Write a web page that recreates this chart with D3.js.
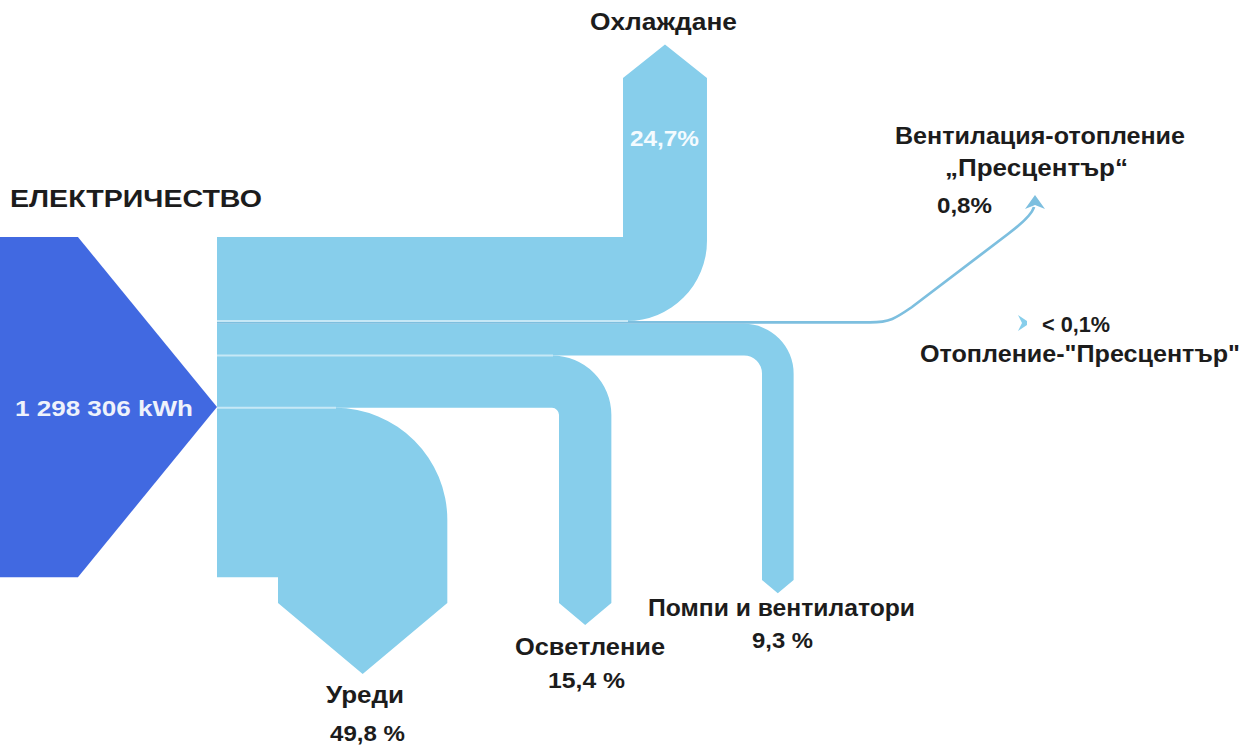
<!DOCTYPE html>
<html>
<head>
<meta charset="utf-8">
<script src="https://cdn.jsdelivr.net/npm/d3@7"></script>
<style>
  html, body { margin: 0; padding: 0; background: #ffffff; }
  svg text { font-family: "Liberation Sans", Arial, "DejaVu Sans", sans-serif; font-weight: bold; }
</style>
</head>
<body>
<svg id="chart" width="1244" height="746"></svg>
<script>
// Electricity balance: one source split into end-use flows (shares in %)
const sourceName = "ЕЛЕКТРИЧЕСТВО";
const sourceLabel = "1 298 306 kWh";
const flowKeys = ["cooling", "ventHeat", "heating", "pumps", "lighting", "appliances"];
const flowNames = ["Охлаждане", "Вентилация-отопление", "Отопление-\"Пресцентър\"", "Помпи и вентилатори", "Осветление", "Уреди"];
const flowShares = [24.7, 0.8, 0.05, 9.3, 15.4, 49.8];
const shareLabels = ["24,7%", "0,8%", "< 0,1%", "9,3 %", "15,4 %", "49,8 %"];
const subName = "„Пресцентър“";

const svg = d3.select("#chart");
const SKY = "#87ceeb", ROYAL = "#4169e1", INK = "#1c1c1c";

// band thickness scale: percent -> pixels
const thick = d3.scaleLinear().domain([0, 100]).range([0, 340]);
const top0 = 237, x0 = 217;

// stack the flows from the top
let acc = 0;
const flows = flowKeys.map((k, i) => {
  const t = top0 + thick(acc);
  acc += flowShares[i];
  return { key: k, name: flowNames[i], share: flowShares[i], label: shareLabels[i], top: t, bot: top0 + thick(acc) };
});
const byKey = Object.fromEntries(flows.map(f => [f.key, f]));
const bottom = top0 + thick(acc);
const mid = (top0 + bottom) / 2;

// source arrow
const half = (bottom - top0) / 2;
const shoulderX = x0 - half * (139 / 170);
svg.append("path")
  .attr("d", d3.line()([[0, top0], [shoulderX, top0], [x0, mid], [shoulderX, bottom], [0, bottom]]) + "Z")
  .attr("fill", ROYAL);

// flow that turns upward
function upFlow(f, xL, ro, yShoulder) {
  const wd = f.bot - f.top, xR = xL + wd, tipH = wd / 2 * 0.8;
  const p = d3.path();
  p.moveTo(x0, f.top);
  p.lineTo(xL, f.top);
  p.lineTo(xL, yShoulder);
  p.lineTo(xL + wd / 2, yShoulder - tipH);
  p.lineTo(xR, yShoulder);
  p.lineTo(xR, f.bot - ro);
  p.arcTo(xR, f.bot, xR - ro, f.bot, ro);
  p.lineTo(x0, f.bot);
  p.closePath();
  return p.toString();
}

// flow that turns downward
function downFlow(f, xL, ri, ro, yShoulder) {
  const wd = f.bot - f.top, xR = xL + wd, tipH = wd / 2 * 0.84;
  if (ro == null) ro = ri + wd;
  const p = d3.path();
  p.moveTo(x0, f.top);
  p.lineTo(xR - ro, f.top);
  p.arcTo(xR, f.top, xR, f.top + ro, ro);
  p.lineTo(xR, yShoulder);
  p.lineTo(xL + wd / 2, yShoulder + tipH);
  p.lineTo(xL, yShoulder);
  if (ri > 0) {
    p.lineTo(xL, f.bot + ri);
    p.arcTo(xL, f.bot, xL - ri, f.bot, ri);
  } else {
    p.lineTo(xL, f.bot);
  }
  p.lineTo(x0, f.bot);
  p.closePath();
  return p.toString();
}

const g = svg.append("g");
g.append("path").attr("d", downFlow(byKey.appliances, 278, 0, 112, 603)).attr("fill", SKY);
g.append("path").attr("d", downFlow(byKey.lighting, 559, 7, null, 603)).attr("fill", SKY);
g.append("path").attr("d", downFlow(byKey.pumps, 762, 18, null, 580)).attr("fill", SKY);
g.append("path").attr("d", upFlow(byKey.cooling, 623, 80, 78)).attr("fill", SKY);

// thin ventilation flow leaving to the right and rising
const v = byKey.ventHeat;
const vy = (v.top + v.bot) / 2;
const VENT = "#7dbfdf";
g.append("path")
  .attr("d", `M${x0},${vy} L870,${vy} C890,${vy} 896,318 912,307 L1008,234 C1024,222 1032,214 1034,207`)
  .attr("fill", "none")
  .attr("stroke", VENT)
  .attr("stroke-width", Math.max(thick(v.share), 2.4));
g.append("path")
  .attr("d", "M1035,195 L1045,209 L1035,205 L1025,209 Z")
  .attr("fill", VENT);

// tiny marker for the negligible heating flow
g.append("path")
  .attr("d", "M1018,315 L1027,321 L1027,325 L1018,331 L1022,323 Z")
  .attr("fill", SKY);

// light separators between adjacent bands
const seps = [[byKey.cooling.bot, 628], [byKey.pumps.bot, 553], [byKey.lighting.bot, 336]];
g.selectAll("line.sep").data(seps).join("line")
  .attr("class", "sep")
  .attr("x1", x0).attr("x2", d => d[1])
  .attr("y1", d => d[0]).attr("y2", d => d[0])
  .attr("stroke", "#c6e8f6").attr("stroke-width", 2);

// labels: [text, x, baseline, width, size, colour]
const labels = [
  [sourceName, 10, 207, 252, 24, INK],
  [sourceLabel, 15, 416, 178, 22, "#eef2fb"],
  [byKey.cooling.name, 590, 30, 147, 23, INK],
  [byKey.cooling.label, 630, 146, 69, 22, "#f4fbff"],
  [byKey.ventHeat.name, 895, 144, 290, 23, INK],
  [subName, 945, 176, 183, 23, INK],
  [byKey.ventHeat.label, 937, 213, 55, 22, INK],
  [byKey.heating.label, 1042, 332, 68, 22, INK],
  [byKey.heating.name, 920, 362, 320, 23, INK],
  [byKey.pumps.name, 648, 616, 267, 23, INK],
  [byKey.pumps.label, 752, 648, 61, 22, INK],
  [byKey.lighting.name, 515, 655, 150, 23, INK],
  [byKey.lighting.label, 548, 688, 77, 22, INK],
  [byKey.appliances.name, 326, 703, 78, 23, INK],
  [byKey.appliances.label, 330, 741, 75, 22, INK]
];
svg.append("g").selectAll("text").data(labels).join("text")
  .attr("x", d => d[1]).attr("y", d => d[2])
  .attr("textLength", d => d[3])
  .attr("lengthAdjust", "spacingAndGlyphs")
  .attr("font-size", d => d[4])
  .attr("fill", d => d[5])
  .text(d => d[0]);
</script>
</body>
</html>
